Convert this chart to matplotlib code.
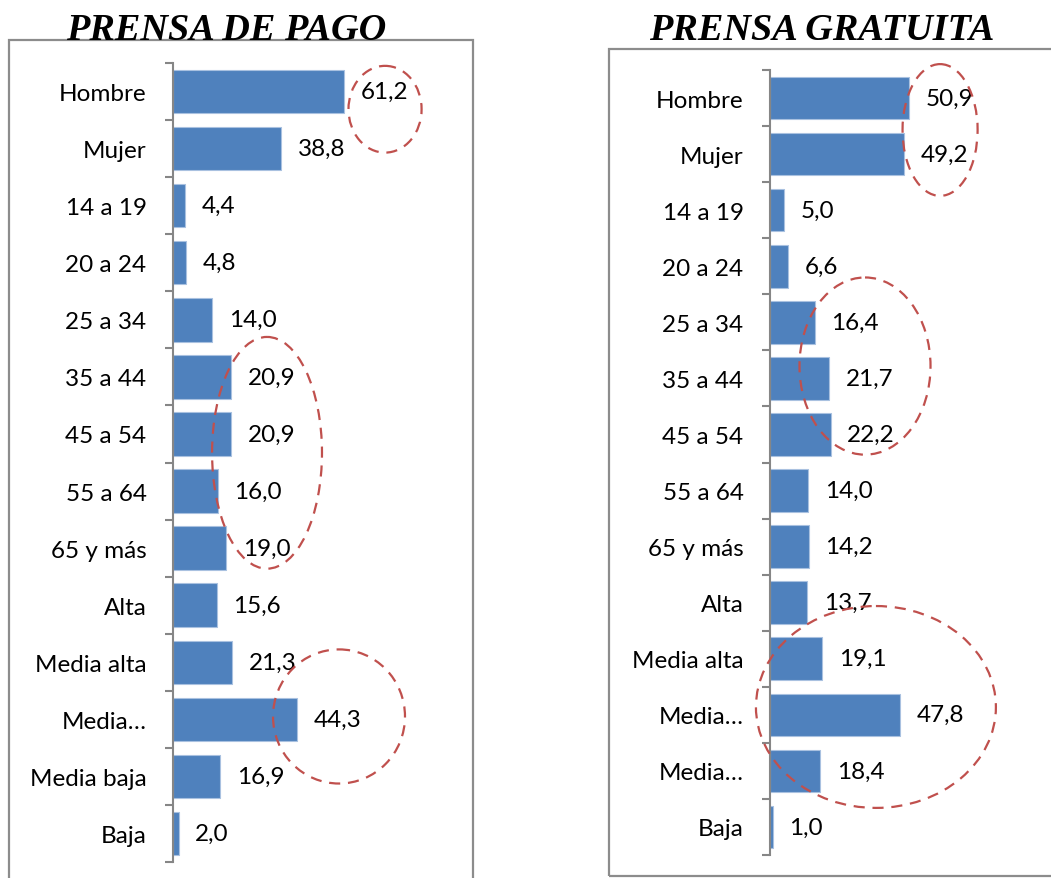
import matplotlib.pyplot as plt
from matplotlib.patches import Ellipse, Rectangle

# data
cats_pago = ['Hombre', 'Mujer', '14 a 19', '20 a 24', '25 a 34', '35 a 44', '45 a 54',
             '55 a 64', '65 y más', 'Alta', 'Media alta', 'Media…', 'Media baja', 'Baja']
vals_pago = [61.2, 38.8, 4.4, 4.8, 14.0, 20.9, 20.9, 16.0, 19.0, 15.6, 21.3, 44.3, 16.9, 2.0]

cats_grat = ['Hombre', 'Mujer', '14 a 19', '20 a 24', '25 a 34', '35 a 44', '45 a 54',
             '55 a 64', '65 y más', 'Alta', 'Media alta', 'Media…', 'Media…', 'Baja']
vals_grat = [50.9, 49.2, 5.0, 6.6, 16.4, 21.7, 22.2, 14.0, 14.2, 13.7, 19.1, 47.8, 18.4, 1.0]

# highlight ellipses: (x center, category center, width, height) in data units
circ_pago = [(76, 0.31, 26.2, 1.52), (33.7, 6.33, 39.4, 4.06), (59.5, 10.95, 47.3, 2.35)]
circ_grat = [(62.3, 0.57, 27.5, 2.35), (34.8, 4.78, 48, 3.16), (38.8, 10.86, 87.9, 3.6)]

W, H = 1051, 879
fig = plt.figure(figsize=(W / 100, H / 100), dpi=100)

BLUE = '#4F81BD'
RED = '#C0504D'
GRAY = '#8C8C8C'


def panel(rect, cats, vals, circles, title, title_xy, box):
    # outer frame
    bx, by, bw, bh = box
    fig.add_artist(Rectangle((bx / W, 1 - (by + bh) / H), bw / W, bh / H,
                             transform=fig.transFigure, fill=False,
                             edgecolor=GRAY, linewidth=1.6, clip_on=False))
    fig.text(title_xy[0] / W, 1 - title_xy[1] / H, title, ha='center', va='baseline',
             fontsize=27.5, fontweight='bold', fontstyle='italic', family='Liberation Serif')

    l, t, r_, b = rect
    ax = fig.add_axes([l / W, 1 - b / H, (r_ - l) / W, (b - t) / H])
    ys = list(range(len(cats)))
    ax.barh(ys, vals, height=0.76, color=BLUE, edgecolor='#A9C1E0', linewidth=0.8)
    ax.set_xlim(0, 100)
    ax.set_ylim(len(cats) - 0.5, -0.5)
    for s in ['top', 'right', 'bottom']:
        ax.spines[s].set_visible(False)
    ax.spines['left'].set_color('#868686')
    ax.spines['left'].set_linewidth(1.5)
    ax.set_xticks([])
    ax.set_yticks(ys)
    ax.set_yticklabels(cats, family='Lato', fontsize=17.5)
    ax.set_yticks([i - 0.5 for i in range(len(cats) + 1)], minor=True)
    ax.tick_params(axis='y', which='major', length=0, pad=19)
    ax.tick_params(axis='y', which='minor', length=6, width=1.5, color='#868686')
    for y, v in zip(ys, vals):
        ax.annotate(f'{v:.1f}'.replace('.', ','), (v, y), xytext=(12, 0),
                    textcoords='offset points', va='center', ha='left',
                    family='Lato', fontsize=17.5)
    for cx, cy, w, h in circles:
        ax.add_patch(Ellipse((cx, cy), w, h, fill=False, edgecolor=RED,
                             linewidth=1.6, linestyle=(0, (5, 3.5)), clip_on=False, zorder=5))
    return ax


panel((173, 64, 452, 863), cats_pago, vals_pago, circ_pago, 'PRENSA DE PAGO',
      (226, 40), (9, 41, 464, 850))
panel((770, 71, 1043, 856), cats_grat, vals_grat, circ_grat, 'PRENSA GRATUITA',
      (822, 40), (609, 50, 460, 827))

plt.savefig('out.png', dpi=100)
